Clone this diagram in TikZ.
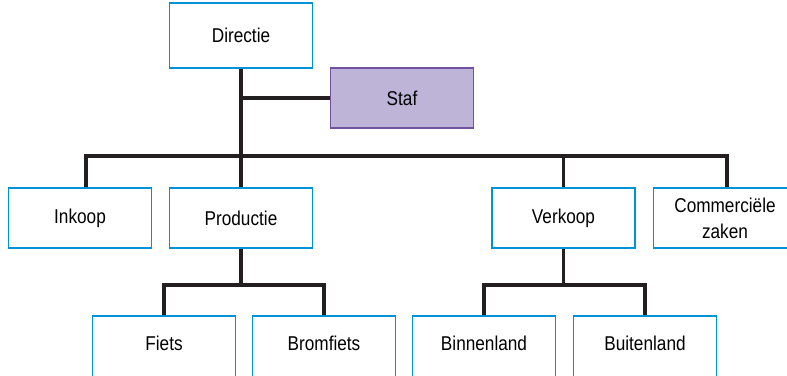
\documentclass[tikz,border=0pt]{standalone}
\usepackage{fontspec}
\setmainfont[FakeStretch=0.86]{Liberation Sans}
\usepackage{xcolor}
\definecolor{boxblue}{RGB}{0,146,214}
\definecolor{stafline}{RGB}{112,82,160}
\definecolor{staffill}{RGB}{190,180,216}
\definecolor{linkgray}{RGB}{35,31,32}

\begin{document}
\begin{tikzpicture}[x=1pt, y=-1pt,
  unit/.style={rectangle, draw=boxblue, line width=1.3pt, fill=white, align=center,
    minimum width=143pt, minimum height=60pt, inner sep=0pt, font=\fontsize{20}{26}\selectfont},
  stafbox/.style={unit, draw=stafline, fill=staffill},
  lowunit/.style={unit, minimum height=64pt, text height=14.5pt, text depth=10pt},
  link/.style={line width=3.2pt, draw=linkgray, line join=miter}
]
\clip (0,0) rectangle (787,375);
\node[unit, minimum height=65pt] (dir) at (241,35.5) {Directie};
\node[stafbox] (staf) at (402,98) {Staf};
\node[unit] (ink) at (80,218) {Inkoop};
\node[unit] (prod) at (241,218) {Productie};
\node[unit] (verk) at (563.5,218) {Verkoop};
\node[unit] (comm) at (725,218) {Commerciële\\zaken};
\node[lowunit] (fiets) at (164,348) {Fiets};
\node[lowunit] (brom) at (324,348) {Bromfiets};
\node[lowunit] (binn) at (484,348) {Binnenland};
\node[lowunit] (buit) at (645,348) {Buitenland};
\coordinate (bar) at (241,156);
\coordinate (pbar) at (241,285);
\coordinate (vbar) at (563.5,285);
% hoofdlijn
\draw[link] (dir.south) -- (prod.north);
\draw[link] (staf.west) -- (staf.west -| dir.south);
\draw[link] ([xshift=6pt]ink.north) |- ([xshift=2pt]comm.north |- bar) -- ([xshift=2pt]comm.north);
\draw[link] (verk.north |- bar) -- (verk.north);
% onderafdelingen
\draw[link] (prod.south) -- (pbar);
\draw[link] (fiets.north) |- (brom.north |- pbar) -- (brom.north);
\draw[link] (verk.south) -- (vbar);
\draw[link] (binn.north) |- (buit.north |- vbar) -- (buit.north);
\end{tikzpicture}
\end{document}
